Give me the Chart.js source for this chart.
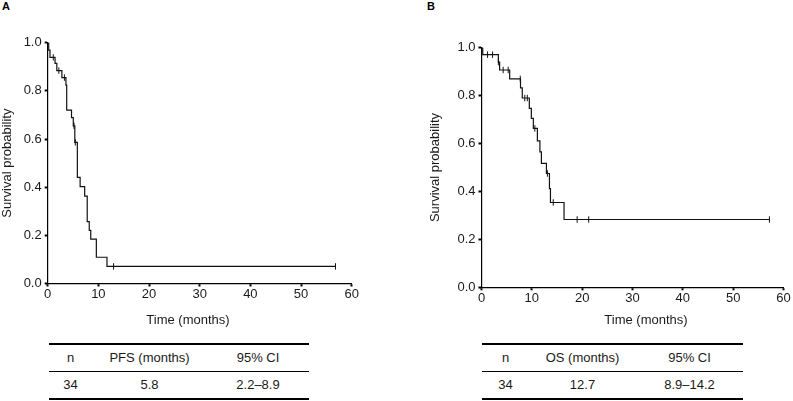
<!DOCTYPE html>
<html>
<head>
<meta charset="utf-8">
<script src="https://cdn.jsdelivr.net/npm/chart.js@4"></script>
<style>
  html, body { margin:0; padding:0; background:#fff; }
  body { width:793px; height:401px; position:relative; overflow:hidden;
         font-family:"Liberation Sans", Arial, sans-serif; color:#1a1a1a; }
  canvas { position:absolute; top:0; }
  .lab { position:absolute; font-weight:bold; font-size:11px; line-height:12px; color:#000; }
  .xt { position:absolute; width:200px; text-align:center; font-size:13px; line-height:16px; }
  .tbl { position:absolute; border-top:2px solid #000; font-size:13px; }
  .row { display:flex; height:26px; align-items:center; border-bottom:2px solid #000; }
  .row.hdr { border-bottom-width:1.6px; }
  .row div { text-align:center; }
</style>
</head>
<body>
<div class="lab" style="left:2px;top:0px;">A</div>
<div class="lab" style="left:427px;top:0px;">B</div>
<canvas id="cA" width="380" height="340" style="left:0px;width:380px;height:340px;"></canvas>
<canvas id="cB" width="368" height="340" style="left:425px;width:368px;height:340px;"></canvas>
<div class="xt" style="left:88px;top:312px;">Time (months)</div>
<div class="xt" style="left:546px;top:312px;">Time (months)</div>

<div class="tbl" id="tA" style="left:49px;top:342.5px;width:260px;"></div>
<div class="tbl" id="tB" style="left:482px;top:342.5px;width:261px;"></div>

<script>
// ---- Panel A: PFS Kaplan-Meier steps ----
const timesA = [0, 0.2, 0.45, 1.45, 1.8, 2.8, 3.6, 3.75, 4.7, 5.05, 5.35, 5.85, 6.4, 7.3, 7.8, 8.2, 8.5, 9.6, 11.7, 56.8];
const survA  = [1.0, 0.969, 0.939, 0.914, 0.884, 0.855, 0.824, 0.72, 0.689, 0.655, 0.586, 0.441, 0.402, 0.363, 0.257, 0.221, 0.184, 0.109, 0.071, 0.071];
const censorTimesA = [1.1, 2.2, 3.3, 5.2, 5.45, 13.0, 56.8];
const censorSurvA  = [0.939, 0.884, 0.855, 0.655, 0.586, 0.071, 0.071];

// ---- Panel B: OS Kaplan-Meier steps ----
const timesB = [0, 0.25, 3.35, 3.6, 5.6, 7.75, 8.1, 9.5, 9.9, 10.3, 11.1, 11.6, 11.9, 12.9, 13.5, 13.7, 16.4, 57.2];
const survB  = [1.0, 0.971, 0.94, 0.907, 0.87, 0.832, 0.79, 0.747, 0.705, 0.663, 0.611, 0.565, 0.517, 0.475, 0.412, 0.354, 0.283, 0.283];
const censorTimesB = [1.2, 2.2, 3.35, 4.3, 5.3, 7.7, 8.6, 9.1, 10.6, 13.1, 14.25, 19.0, 21.3, 57.2];
const censorSurvB  = [0.971, 0.971, 0.94, 0.907, 0.907, 0.87, 0.79, 0.79, 0.663, 0.475, 0.354, 0.283, 0.283, 0.283];

// ---- Axis ticks ----
const xTicks = [0, 10, 20, 30, 40, 50, 60];
const yTicks = [0.0, 0.2, 0.4, 0.6, 0.8, 1.0];

// ---- Summary tables ----
const tableHeadA = ["n", "PFS (months)", "95% CI"];
const tableRowA  = ["34", "5.8", "2.2–8.9"];
const tableHeadB = ["n", "OS (months)", "95% CI"];
const tableRowB  = ["34", "12.7", "8.9–14.2"];

const FONT = '"Liberation Sans", Arial, sans-serif';
const INK = '#1a1a1a';

function pts(xs, ys) { return xs.map((x, i) => ({x: x, y: ys[i]})); }

function makeKM(id, times, surv, cTimes, cSurv, geo) {
  const ctx = document.getElementById(id);
  return new Chart(ctx, {
    type: 'line',
    data: {
      datasets: [
        { data: pts(times, surv), stepped: 'before', borderColor: '#111', borderWidth: 1.2,
          pointRadius: 0, fill: false },
        { type: 'scatter', data: pts(cTimes, cSurv), pointStyle: 'line', rotation: 90,
          pointRadius: 3.2, borderColor: '#111', borderWidth: 1, backgroundColor: '#111' }
      ]
    },
    options: {
      responsive: false, animation: false,
      layout: { padding: { left: 0, top: geo.top, right: geo.right, bottom: 0 } },
      plugins: { legend: { display: false }, tooltip: { enabled: false } },
      scales: {
        x: {
          type: 'linear', min: 0, max: 60,
          afterBuildTicks: (s) => { s.ticks = xTicks.map(v => ({value: v})); },
          ticks: { color: INK, font: { family: FONT, size: 13 }, padding: 0, maxRotation: 0,
                   callback: (v) => String(v) },
          grid: { display: true, drawOnChartArea: false, drawTicks: true, tickLength: 3,
                  tickWidth: 2, tickColor: '#000' },
          border: { display: true, color: '#000', width: 1.2 },
          afterFit: (s) => { s.height = geo.xh; }
        },
        y: {
          type: 'linear', min: 0, max: 1,
          afterBuildTicks: (s) => { s.ticks = yTicks.map(v => ({value: v})); },
          ticks: { color: INK, font: { family: FONT, size: 13 }, padding: 3,
                   callback: (v) => Number(v).toFixed(1) },
          grid: { display: true, drawOnChartArea: false, drawTicks: true, tickLength: 3,
                  tickWidth: 2, tickColor: '#000' },
          border: { display: true, color: '#000', width: 1.2 },
          title: { display: true, text: 'Survival probability', color: INK,
                   font: { family: FONT, size: 13 }, padding: { top: geo.tp, bottom: 0 } },
          afterFit: (s) => { s.width = geo.yw; }
        }
      }
    }
  });
}

makeKM('cA', timesA, survA, censorTimesA, censorSurvA,
       { top: 42.7, right: 28.3, xh: 56.5, yw: 47.7, tp: 0 });
makeKM('cB', timesB, survB, censorTimesB, censorSurvB,
       { top: 47.7, right: 9.5, xh: 52.7, yw: 56.5, tp: 2.7 });

function buildTable(id, head, row, widths) {
  const t = document.getElementById(id);
  [head, row].forEach((r, k) => {
    const d = document.createElement('div');
    d.className = 'row' + (k === 0 ? ' hdr' : '');
    r.forEach((txt, i) => {
      const c = document.createElement('div');
      c.style.width = widths[i] + 'px';
      c.textContent = txt;
      d.appendChild(c);
    });
    t.appendChild(d);
  });
}
buildTable('tA', tableHeadA, tableRowA, [43, 115, 102]);
buildTable('tB', tableHeadB, tableRowB, [47, 107, 107]);
</script>
</body>
</html>
